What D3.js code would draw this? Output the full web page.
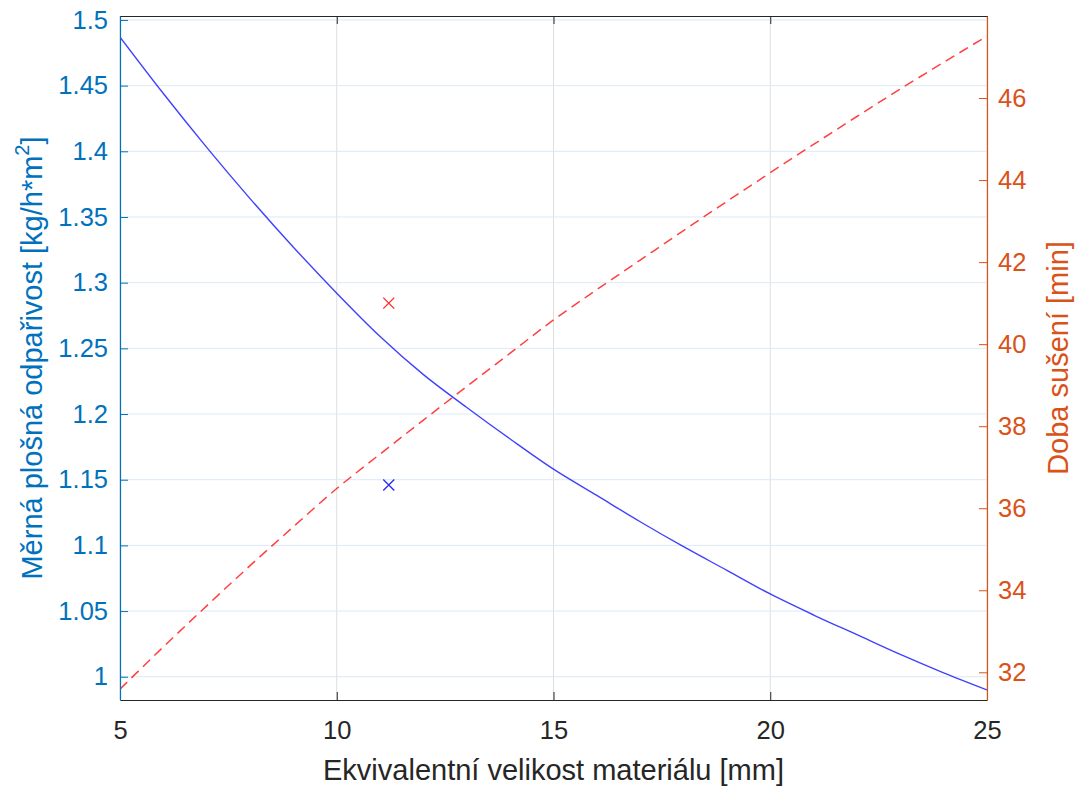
<!DOCTYPE html>
<html>
<head>
<meta charset="utf-8">
<script src="https://cdn.jsdelivr.net/npm/d3@7"></script>
<style>
  body { margin: 0; background: #fff; }
  svg { display: block; }
</style>
</head>
<body>
<svg id="chart" width="1083" height="789"></svg>
<script>
// Equivalent material size [mm]
const sizes = [5, 6, 7, 8, 9, 10, 11, 12, 13, 14, 15, 16, 17, 18, 19, 20, 21, 22, 23, 24, 25];
// Specific surface evaporation rate [kg/h*m2] (left axis)
const evaporation = [1.487, 1.444, 1.403, 1.364, 1.327, 1.292, 1.259, 1.230, 1.205, 1.181, 1.158,
  1.138, 1.118, 1.099, 1.081, 1.063, 1.047, 1.032, 1.017, 1.003, 0.990];
// Drying time [min] (right axis)
const dryingTime = [31.59, 32.62, 33.62, 34.60, 35.55, 36.48, 37.32, 38.15, 38.97, 39.78, 40.59,
  41.33, 42.05, 42.77, 43.48, 44.18, 44.87, 45.55, 46.22, 46.87, 47.51];
// Single measured points
const measured = { size: 11.2, evaporation: 1.146, dryingTime: 41.0 };

const xTicks = [5, 10, 15, 20, 25];
const leftTicks = [1, 1.05, 1.1, 1.15, 1.2, 1.25, 1.3, 1.35, 1.4, 1.45, 1.5];
const rightTicks = [32, 34, 36, 38, 40, 42, 44, 46];

const color = {
  left: '#0072BD',
  right: '#D95319',
  axis: '#262626',
  blue: '#0000FF',
  red: '#FF0000'
};

const padding = { top: 16, right: 96, bottom: 89, left: 120 };
const width = 1083 - padding.left - padding.right;
const height = 789 - padding.top - padding.bottom;
const font = '"Liberation Sans", Arial, Helvetica, sans-serif';

const svg = d3.select('#chart').style('font-family', font);

const x = d3.scaleLinear().domain([5, 25]).range([0, width]);
const yLeft = d3.scaleLinear().domain([0.9823, 1.503]).range([height, 0]);
const yRight = d3.scaleLinear().domain([31.325, 48.0]).range([height, 0]);

const canvas = svg.append('g')
  .attr('transform', `translate(${padding.left}, ${padding.top})`);

// Grid lines: vertical from x ticks, horizontal from left ticks
canvas.append('g')
  .selectAll('line')
  .data(xTicks)
  .join('line')
  .attr('x1', d => x(d)).attr('x2', d => x(d))
  .attr('y1', 0).attr('y2', height)
  .attr('stroke', '#dedede')
  .attr('stroke-width', 1);

canvas.append('g')
  .selectAll('line')
  .data(leftTicks)
  .join('line')
  .attr('x1', 0).attr('x2', width)
  .attr('y1', d => yLeft(d)).attr('y2', d => yLeft(d))
  .attr('stroke', '#dce9f6')
  .attr('stroke-width', 1);

// Data lines
canvas.append('clipPath').attr('id', 'plot-clip')
  .append('rect').attr('width', width).attr('height', height);

const lineLeft = d3.line().curve(d3.curveMonotoneX).x((d, i) => x(sizes[i])).y(d => yLeft(d));
const lineRight = d3.line().curve(d3.curveMonotoneX).x((d, i) => x(sizes[i])).y(d => yRight(d));

const plot = canvas.append('g').attr('clip-path', 'url(#plot-clip)');

plot.append('path')
  .datum(evaporation)
  .attr('d', lineLeft)
  .attr('fill', 'none')
  .attr('stroke', color.blue)
  .attr('stroke-opacity', 0.75)
  .attr('stroke-width', 1.4);

plot.append('path')
  .datum(dryingTime)
  .attr('d', lineRight)
  .attr('fill', 'none')
  .attr('stroke', color.red)
  .attr('stroke-opacity', 0.75)
  .attr('stroke-width', 1.5)
  .attr('stroke-dasharray', '10,6');

// Cross markers
function cross(px, py, stroke) {
  const s = 5.5;
  plot.append('path')
    .attr('d', `M${px - s},${py - s}L${px + s},${py + s}M${px - s},${py + s}L${px + s},${py - s}`)
    .attr('stroke', stroke)
    .attr('stroke-opacity', 0.85)
    .attr('stroke-width', 1.3)
    .attr('fill', 'none');
}
cross(x(measured.size), yLeft(measured.evaporation), color.blue);
cross(x(measured.size), yRight(measured.dryingTime), color.red);

// Axes
const tickFont = 25.5;

const xAxis = canvas.append('g')
  .attr('transform', `translate(0, ${height})`)
  .call(d3.axisBottom(x).tickValues(xTicks).tickFormat(d3.format('d'))
    .tickSize(-8).tickSizeOuter(0).tickPadding(21));
xAxis.selectAll('path, line').attr('stroke', color.axis);
xAxis.selectAll('text').attr('fill', color.axis).attr('font-size', tickFont).attr('font-family', font);

// Top border with mirrored ticks
const xTop = canvas.append('g')
  .call(d3.axisTop(x).tickValues(xTicks).tickFormat('').tickSize(-8).tickSizeOuter(0));
xTop.selectAll('path, line').attr('stroke', color.axis);

const leftAxis = canvas.append('g')
  .call(d3.axisLeft(yLeft).tickValues(leftTicks).tickFormat(d => d3.format('')(+d.toFixed(2)))
    .tickSize(-8).tickSizeOuter(0).tickPadding(12));
leftAxis.selectAll('path, line').attr('stroke', color.left);
leftAxis.selectAll('text').attr('fill', color.left).attr('font-size', tickFont).attr('font-family', font);

const rightAxis = canvas.append('g')
  .attr('transform', `translate(${width}, 0)`)
  .call(d3.axisRight(yRight).tickValues(rightTicks).tickFormat(d3.format('d'))
    .tickSize(-8).tickSizeOuter(0).tickPadding(11));
rightAxis.selectAll('path, line').attr('stroke', color.right);
rightAxis.selectAll('text').attr('fill', color.right).attr('font-size', tickFont).attr('font-family', font);

svg.selectAll('.domain').attr('stroke-width', 1.2);

// Axis labels
const labelFont = 29;

svg.append('text')
  .attr('x', padding.left + width / 2)
  .attr('y', 780)
  .attr('text-anchor', 'middle')
  .attr('font-size', labelFont)
  .attr('fill', color.axis)
  .text('Ekvivalentní velikost materiálu [mm]');

const leftLabel = svg.append('text')
  .attr('transform', `translate(42, ${padding.top + height / 2}) rotate(-90)`)
  .attr('text-anchor', 'middle')
  .attr('font-size', labelFont)
  .attr('fill', color.left);
leftLabel.append('tspan').text('Měrná plošná odpařivost [kg/h*m');
leftLabel.append('tspan').attr('font-size', 20).attr('dy', -13).text('2');
leftLabel.append('tspan').attr('dy', 13).text(']');

svg.append('text')
  .attr('transform', `translate(1068, ${padding.top + height / 2}) rotate(-90)`)
  .attr('text-anchor', 'middle')
  .attr('font-size', labelFont)
  .attr('fill', color.right)
  .text('Doba sušení [min]');
</script>
</body>
</html>
